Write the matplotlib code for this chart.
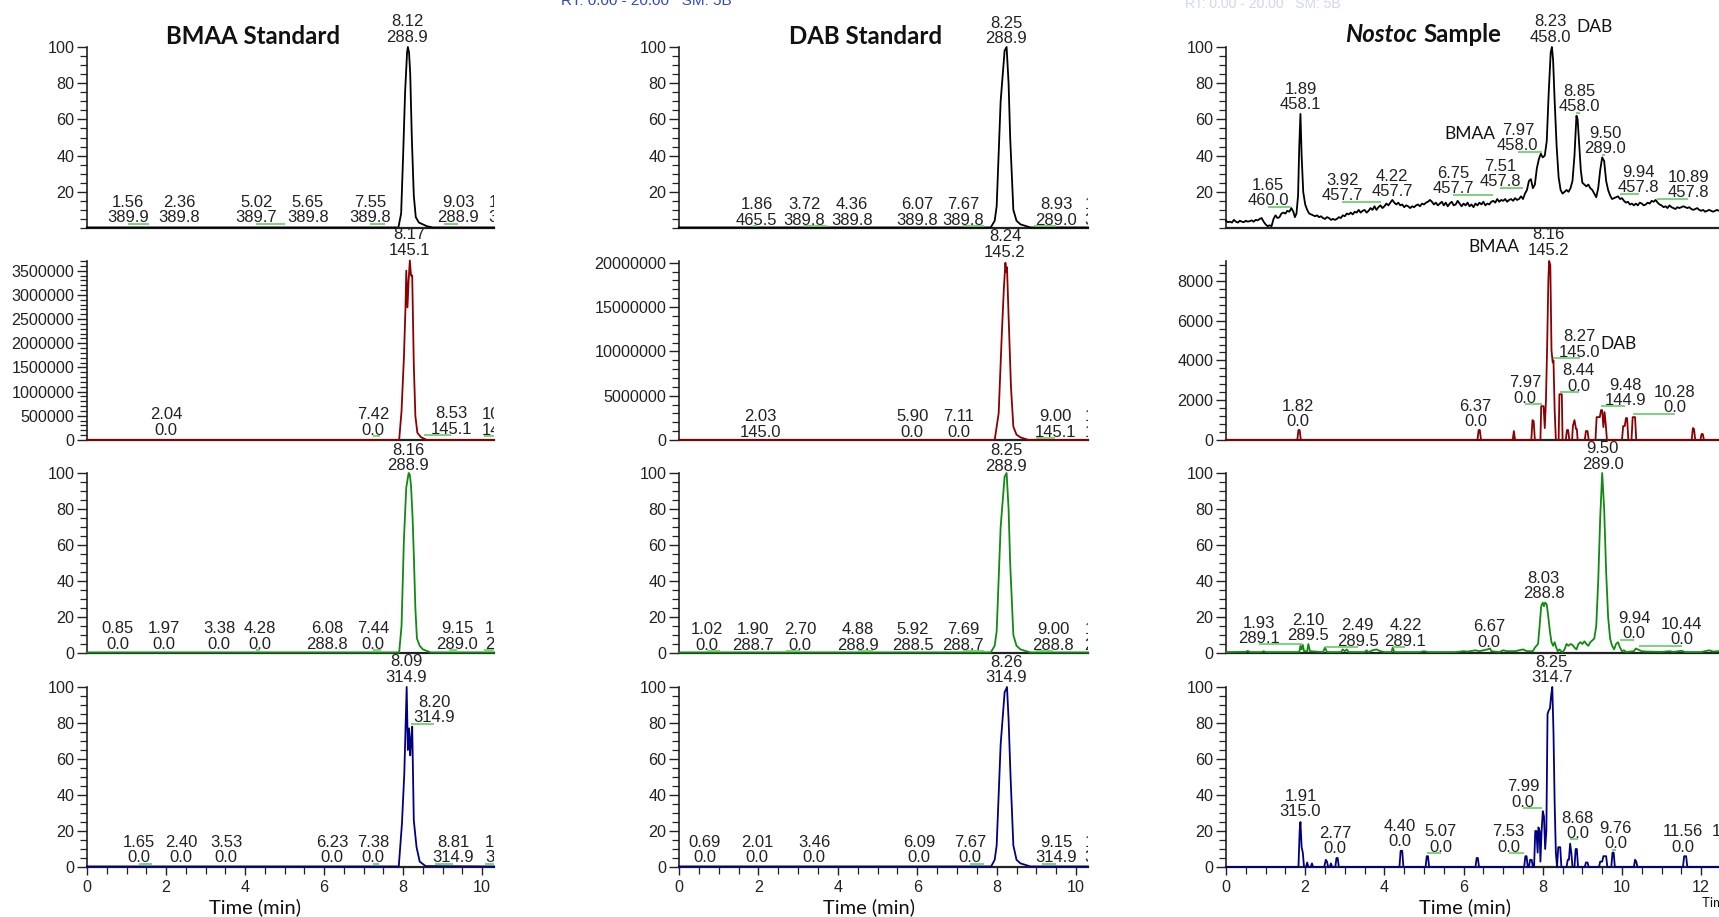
import matplotlib
matplotlib.use("Agg")
import matplotlib.pyplot as plt
from matplotlib.ticker import MultipleLocator, FixedLocator, FuncFormatter
from matplotlib.transforms import Bbox, TransformedBbox, blended_transform_factory

# ---------------- data ----------------
# BMAA standard
bmaa_289_t = [0, 7.88, 7.95, 8.0, 8.05, 8.1, 8.12, 8.15, 8.18, 8.22, 8.27, 8.32, 8.4, 8.5, 8.6, 8.75, 10.3]
bmaa_289_v = [0.3, 0.3, 8, 40, 75, 97, 100, 97, 85, 50, 18, 6, 3, 2, 1, 0.3, 0.3]
bmaa_145_t = [0, 7.9, 7.96, 8.02, 8.06, 8.08, 8.11, 8.14, 8.17, 8.2, 8.23, 8.27, 8.31, 8.36, 8.45, 8.6, 10.3]
bmaa_145_v = [0, 0, 0.6e6, 1.7e6, 2.74e6, 3.5e6, 2.74e6, 3.3e6, 3.71e6, 3.4e6, 3.4e6, 1.57e6, 0.5e6, 0.15e6, 0.06e6, 0, 0]
bmaa_289b_t = [0, 7.9, 7.96, 8.02, 8.08, 8.14, 8.17, 8.2, 8.24, 8.27, 8.31, 8.35, 8.42, 8.5, 8.7, 10.3]
bmaa_289b_v = [0.3, 0.3, 15, 63, 92, 100, 99, 93, 75, 55, 25, 8, 4, 2, 0.3, 0.3]
bmaa_315_t = [0, 7.89, 7.97, 8.03, 8.09, 8.12, 8.15, 8.18, 8.2, 8.23, 8.27, 8.34, 8.42, 8.57, 10.3]
bmaa_315_v = [0.3, 0.3, 24, 52, 100, 65, 77, 62, 70, 78, 26, 11, 3, 0.5, 0.3]

# DAB standard
dab_289_t = [0, 7.85, 7.95, 8.0, 8.1, 8.2, 8.25, 8.3, 8.34, 8.42, 8.5, 8.6, 8.85, 10.3]
dab_289_v = [0.3, 0.3, 4, 12, 70, 98, 100, 80, 50, 10, 4, 2, 0.3, 0.3]
dab_145_t = [0, 7.95, 8.05, 8.13, 8.18, 8.22, 8.24, 8.26, 8.3, 8.36, 8.42, 8.5, 8.6, 8.8, 10.3]
dab_145_v = [0, 0, 0.3e7, 1.2e7, 1.7e7, 2.0e7, 1.9e7, 1.95e7, 1.4e7, 0.6e7, 0.15e7, 0.06e7, 0.03e7, 0, 0]
dab_289b_t = [0, 7.85, 7.95, 8.0, 8.1, 8.2, 8.25, 8.3, 8.34, 8.42, 8.5, 8.6, 8.85, 10.3]
dab_289b_v = [0.3, 0.3, 4, 12, 70, 98, 100, 80, 50, 10, 4, 2, 0.3, 0.3]
dab_315_t = [0, 7.86, 7.95, 8.0, 8.1, 8.2, 8.26, 8.3, 8.35, 8.42, 8.5, 8.6, 8.85, 10.3]
dab_315_v = [0.3, 0.3, 4, 12, 68, 97, 100, 82, 50, 12, 4, 2, 0.3, 0.3]

# Nostoc sample
nos_458_t = [0.00, 0.05, 0.10, 0.15, 0.20, 0.25, 0.30, 0.35, 0.40, 0.45, 0.50, 0.55, 0.60, 0.65, 0.70,
             0.75, 0.80, 0.85, 0.90, 0.95, 1.00, 1.05, 1.10, 1.15, 1.20, 1.25, 1.30, 1.35, 1.40, 1.45,
             1.50, 1.55, 1.60, 1.65, 1.70, 1.74, 1.78, 1.82, 1.85, 1.88, 1.91, 1.95, 2.00, 2.05, 2.10,
             2.15, 2.20, 2.25, 2.30, 2.35, 2.40, 2.45, 2.50, 2.55, 2.60, 2.65, 2.70, 2.75, 2.80, 2.85,
             2.90, 2.95, 3.00, 3.05, 3.10, 3.15, 3.20, 3.25, 3.30, 3.35, 3.40, 3.45, 3.50, 3.55, 3.60,
             3.65, 3.70, 3.75, 3.80, 3.85, 3.90, 3.95, 4.00, 4.05, 4.10, 4.15, 4.20, 4.25, 4.30, 4.35,
             4.40, 4.45, 4.50, 4.55, 4.60, 4.65, 4.70, 4.75, 4.80, 4.85, 4.90, 4.95, 5.00, 5.05, 5.10,
             5.15, 5.20, 5.25, 5.30, 5.35, 5.40, 5.45, 5.50, 5.55, 5.60, 5.65, 5.70, 5.75, 5.80, 5.85,
             5.90, 5.95, 6.00, 6.05, 6.10, 6.15, 6.20, 6.25, 6.30, 6.35, 6.40, 6.45, 6.50, 6.55, 6.60,
             6.65, 6.70, 6.75, 6.80, 6.85, 6.90, 6.95, 7.00, 7.05, 7.10, 7.15, 7.20, 7.25, 7.30, 7.35,
             7.40, 7.45, 7.50, 7.55, 7.60, 7.65, 7.70, 7.75, 7.80, 7.85, 7.90, 7.95, 8.00, 8.05, 8.10,
             8.15, 8.20, 8.23, 8.26, 8.30, 8.35, 8.40, 8.45, 8.50, 8.55, 8.60, 8.65, 8.70, 8.75, 8.80,
             8.85, 8.88, 8.92, 8.96, 9.00, 9.05, 9.10, 9.15, 9.20, 9.25, 9.30, 9.35, 9.40, 9.45, 9.50,
             9.55, 9.60, 9.65, 9.70, 9.75, 9.80, 9.85, 9.90, 9.95, 10.00, 10.05, 10.10, 10.15, 10.20,
             10.25, 10.30, 10.35, 10.40, 10.45, 10.50, 10.55, 10.60, 10.65, 10.70, 10.75, 10.80, 10.85,
             10.90, 10.95, 11.00, 11.05, 11.10, 11.15, 11.20, 11.25, 11.30, 11.35, 11.40, 11.45, 11.50,
             11.55, 11.60, 11.65, 11.70, 11.75, 11.80, 11.85, 11.90, 11.95, 12.00, 12.05, 12.10, 12.15,
             12.20, 12.25, 12.30, 12.35, 12.40, 12.45]
nos_458_v = [4, 3.2, 3.5, 3, 4.5, 3.5, 3, 4, 3.5, 3.2, 4, 3.5, 3.8, 4.2, 3.5,
             4.5, 4.2, 5, 5.5, 3.5, 2, 1, 1.5, 1, 5, 7, 5.5, 6, 8, 8.5,
             8, 9.5, 9, 11, 9, 6, 8, 18, 45, 63, 40, 20, 13, 10, 8,
             7.5, 7, 6.5, 7, 6, 6.5, 5.5, 5, 6, 5.5, 4.5, 5, 4.5, 5, 6,
             5.5, 7, 6.5, 8, 7.5, 8.5, 7.5, 9, 8.5, 10, 8.5, 9.5, 10, 8.5, 9.5,
             11, 10, 12, 10, 11.5, 12.5, 11, 12, 13.5, 12.5, 14, 15.5, 14, 13, 14,
             12.5, 13, 11.5, 12.5, 12, 11, 12, 11.5, 12.5, 13, 12, 13.5, 13, 14, 14.5,
             15.5, 14.5, 13, 14, 12.5, 13.5, 14.5, 12.5, 14, 12, 13.5, 14.5, 12.5, 13, 15,
             13.5, 12, 13.5, 12.5, 14, 12, 13, 11.5, 13.5, 12.5, 14, 13, 14.5, 12.5, 13.5,
             13, 14.5, 15, 14, 16, 14.5, 15.5, 15, 16, 14.5, 15.5, 16, 15, 16.5, 15.5,
             16, 17.5, 16, 19, 21, 26, 27, 22, 24, 33, 38, 41, 39, 40, 48,
             75, 97, 100, 93, 70, 45, 28, 21, 19, 20, 21, 20, 22, 26, 40,
             62, 60, 46, 32, 25, 24, 23, 24, 22, 21, 19, 17, 22, 32, 39,
             37, 26, 21, 18, 16, 16.5, 17, 17.5, 16, 16.5, 15, 14, 14.5, 13,
             13.5, 12.5, 13.5, 12.5, 14, 13.5, 12.5, 13, 14, 13.5, 15, 14.5, 15.5,
             14, 13, 12.5, 11.5, 12, 11, 12.5, 11.5, 11, 10.5, 11.5, 11, 11.5,
             12, 11.5, 11, 11.5, 10.5, 10, 10.5, 11, 10, 9.5, 10, 9, 9.5,
             10, 9.5, 9, 9.5, 10, 9.5]

nos_145_t = [0, 1.80, 1.83, 1.86, 1.89, 6.35, 6.38, 6.41, 6.44, 7.24, 7.27, 7.30, 7.71, 7.74, 7.77, 7.80,
             7.94, 7.96, 8.02, 8.05, 8.08, 8.11, 8.14, 8.16, 8.19, 8.22, 8.25, 8.27, 8.30, 8.33,
             8.40, 8.42, 8.48, 8.50, 8.58, 8.61, 8.64, 8.67, 8.74, 8.76, 8.80, 8.84, 8.86, 8.88,
             9.06, 9.09, 9.13, 9.16, 9.33, 9.36, 9.44, 9.47, 9.50, 9.53, 9.56, 9.59, 9.62,
             10.00, 10.03, 10.07, 10.10, 10.13, 10.16, 10.24, 10.27, 10.33, 10.36,
             11.76, 11.79, 11.82, 11.85, 11.98, 12.01, 12.04, 12.07, 12.45]
nos_145_v = [0, 0, 500, 500, 0, 0, 500, 500, 0, 0, 450, 0, 0, 1000, 950, 0,
             0, 1700, 1700, 600, 2000, 4700, 8000, 9000, 8800, 4500, 3900, 4000, 1500, 0,
             0, 2300, 2300, 0, 0, 500, 500, 0, 0, 700, 1000, 550, 550, 0,
             0, 450, 450, 0, 0, 1150, 1150, 1500, 1500, 650, 1400, 800, 0,
             0, 700, 700, 1100, 1100, 0, 0, 1150, 1150, 0,
             0, 600, 550, 0, 0, 300, 300, 0, 0]

nos_289_t = [0, 0.5, 0.55, 0.6, 0.9, 0.95, 1.0, 1.85, 1.88, 1.91, 1.94, 1.97, 2.05, 2.08, 2.12, 2.45, 2.5,
             2.55, 2.9, 2.95, 3.0, 3.05, 3.1, 3.5, 3.55, 3.6, 3.7, 3.8, 3.9, 4.0, 4.18, 4.21, 4.25, 4.9,
             5.0, 5.1, 5.8, 6.0, 6.1, 6.3, 6.4, 6.6, 6.67, 6.7, 6.9, 7.0, 7.1, 7.3, 7.5, 7.6, 7.75, 7.8,
             7.88, 7.92, 7.96, 8.0, 8.03, 8.06, 8.1, 8.14, 8.18, 8.22, 8.26, 8.3, 8.34, 8.38, 8.42, 8.46,
             8.5, 8.55, 8.6, 8.65, 8.7, 8.75, 8.8, 8.85, 8.9, 8.95, 9.0, 9.05, 9.1, 9.15, 9.2, 9.25, 9.3,
             9.35, 9.4, 9.45, 9.5, 9.55, 9.6, 9.65, 9.7, 9.75, 9.8, 9.85, 9.9, 9.95, 10.0, 10.05, 10.1,
             10.3, 10.35, 10.4, 10.5, 10.6, 11.0, 11.2, 11.3, 11.5, 11.6, 12.0, 12.2, 12.3, 12.45]
nos_289_v = [0.5, 0.6, 1.2, 0.5, 0.5, 1, 0.5, 0.5, 4, 2, 4.5, 1, 1, 5, 1, 0.5, 3,
             0.5, 0.5, 2, 1, 2, 0.5, 0.5, 1.5, 0.5, 1.5, 2, 1, 0.5, 0.5, 3, 0.5, 0.5,
             1, 0.5, 0.5, 1, 0.8, 1.5, 1, 2, 2.5, 1, 0.5, 1.5, 1, 1, 2, 1, 1, 3,
             5, 15, 26, 28, 26, 28, 27, 20, 12, 6, 4, 6, 3, 1, 2, 1,
             0.5, 2, 5, 4, 5, 4.5, 3, 2, 5, 6, 5, 6.5, 5, 4, 6, 7, 8,
             15, 40, 75, 100, 80, 45, 20, 8, 4, 2, 5, 6, 3, 1, 1.5, 0.5,
             1, 2.5, 2, 1, 0.8, 0.6, 1, 0.6, 1.2, 0.5, 0.5, 1.5, 0.8, 1]

nos_315_t = [0, 1.83, 1.86, 1.88, 1.91, 1.94, 1.97, 2.02, 2.05, 2.08, 2.14, 2.17, 2.20, 2.48, 2.52, 2.55,
             2.58, 2.62, 2.65, 2.68, 2.76, 2.79, 2.82, 2.85, 4.38, 4.41, 4.45, 4.48, 5.04, 5.07, 5.10,
             5.13, 6.30, 6.33, 6.36, 6.39, 7.53, 7.56, 7.59, 7.62, 7.65, 7.68, 7.72, 7.75, 7.78, 7.81,
             7.84, 7.87, 7.89, 7.92, 7.94, 7.97, 8.0, 8.03, 8.06, 8.09, 8.12, 8.15, 8.18, 8.21, 8.24,
             8.27, 8.30, 8.33, 8.36, 8.39, 8.44, 8.47, 8.60, 8.63, 8.66, 8.69, 8.72, 8.75, 8.80, 8.83,
             8.86, 8.89, 9.06, 9.09, 9.13, 9.16, 9.42, 9.45, 9.50, 9.53, 9.60, 9.63, 9.73, 9.76, 9.79,
             9.82, 10.30, 10.33, 10.36, 10.39, 11.54, 11.57, 11.62, 11.65, 12.45]
nos_315_v = [0, 0, 20, 25, 11, 8, 0, 0, 2.5, 0, 0, 2, 0, 0, 4, 3,
             0, 0, 2, 0, 0, 5, 5, 0, 0, 9, 9, 0, 0, 6, 6,
             0, 0, 5, 5, 0, 0, 6, 6, 0, 0, 4, 4, 0, 0, 20,
             20, 8, 22, 20, 3, 20, 31, 28, 10, 20, 85, 87, 88, 95, 100,
             75, 35, 8, 0, 11, 11, 0, 0, 4, 4, 13, 8, 0, 0, 10,
             10, 0, 0, 2.5, 2.5, 0, 0, 3, 3, 6, 6, 0, 0, 8, 8,
             0, 0, 4, 3, 0, 0, 6, 6, 0, 0]

# peak labels: (retention time, m/z)
lab_bmaa_289 = [("8.12", "288.9"), ("1.56", "389.9"), ("2.36", "389.8"), ("5.02", "389.7"), ("5.65", "389.8"),
                ("7.55", "389.8"), ("9.03", "288.9"), ("10.31", "389.8")]
lab_bmaa_145 = [("8.17", "145.1"), ("2.04", "0.0"), ("7.42", "0.0"), ("8.53", "145.1"), ("10.05", "145.1")]
lab_bmaa_289b = [("8.16", "288.9"), ("0.85", "0.0"), ("1.97", "0.0"), ("3.38", "0.0"), ("4.28", "0.0"),
                 ("6.08", "288.8"), ("7.44", "0.0"), ("9.15", "289.0"), ("10.04", "288.9")]
lab_bmaa_315 = [("8.09", "314.9"), ("8.20", "314.9"), ("1.65", "0.0"), ("2.40", "0.0"), ("3.53", "0.0"),
                ("6.23", "0.0"), ("7.38", "0.0"), ("8.81", "314.9"), ("10.06", "314.9")]
lab_dab_289 = [("8.25", "288.9"), ("1.86", "465.5"), ("3.72", "389.8"), ("4.36", "389.8"), ("6.07", "389.8"),
               ("7.67", "389.8"), ("8.93", "289.0"), ("10.62", "389.8")]
lab_dab_145 = [("8.24", "145.2"), ("2.03", "145.0"), ("5.90", "0.0"), ("7.11", "0.0"), ("9.00", "145.1"),
               ("10.53", "145.1")]
lab_dab_289b = [("8.25", "288.9"), ("1.02", "0.0"), ("1.90", "288.7"), ("2.70", "0.0"), ("4.88", "288.9"),
                ("5.92", "288.5"), ("7.69", "288.7"), ("9.00", "288.8"), ("10.47", "288.9")]
lab_dab_315 = [("8.26", "314.9"), ("0.69", "0.0"), ("2.01", "0.0"), ("3.46", "0.0"), ("6.09", "0.0"),
               ("7.67", "0.0"), ("9.15", "314.9"), ("10.51", "314.9")]
lab_nos_458 = [("8.23", "458.0"), ("1.65", "460.0"), ("1.89", "458.1"), ("3.92", "457.7"), ("4.22", "457.7"),
               ("6.75", "457.7"), ("7.51", "457.8"), ("7.97", "458.0"), ("8.85", "458.0"), ("9.50", "289.0"),
               ("9.94", "457.8"), ("10.89", "457.8")]
lab_nos_145 = [("8.16", "145.2"), ("8.27", "145.0"), ("8.44", "0.0"), ("7.97", "0.0"), ("1.82", "0.0"),
               ("6.37", "0.0"), ("9.48", "144.9"), ("10.28", "0.0")]
lab_nos_289 = [("9.50", "289.0"), ("8.03", "288.8"), ("1.93", "289.1"), ("2.10", "289.5"), ("2.49", "289.5"),
               ("4.22", "289.1"), ("6.67", "0.0"), ("9.94", "0.0"), ("10.44", "0.0")]
lab_nos_315 = [("8.25", "314.7"), ("1.91", "315.0"), ("2.77", "0.0"), ("4.40", "0.0"), ("5.07", "0.0"),
               ("7.53", "0.0"), ("7.99", "0.0"), ("8.68", "0.0"), ("9.76", "0.0"), ("11.56", "0.0"),
               ("12.62", "0.0")]

titles = ["BMAA Standard", "DAB Standard", "Sample"]
x_label = "Time (min)"

# ---------------- layout (label positions: x in min, y in axes fraction) ----------------
pos_bmaa_289 = [(8.10, 1.097), (1.04, .099), (2.33, .099), (4.28, .099), (5.59, .099), (7.16, .099), (9.39, .099), (10.68, .099)]
pos_bmaa_145 = [(8.15, 1.103), (2.0, .098), (7.24, .098), (9.22, .103), (10.52, .098)]
pos_bmaa_289b = [(8.13, 1.083), (0.78, .092), (1.95, .092), (3.34, .092), (4.38, .092), (6.08, .092), (7.24, .092), (9.37, .092), (10.6, .092)]
pos_bmaa_315 = [(8.08, 1.097), (8.78, .872), (1.32, .094), (2.38, .094), (3.52, .094), (6.2, .094), (7.24, .094), (9.27, .094), (10.6, .094)]
pos_dab_289 = [(8.24, 1.088), (1.96, .086), (3.15, .086), (4.36, .086), (6.0, .086), (7.15, .086), (9.5, .086), (10.74, .086)]
pos_dab_145 = [(8.21, 1.092), (2.04, .087), (5.87, .087), (7.05, .087), (9.47, .087), (10.74, .087)]
pos_dab_289b = [(8.24, 1.081), (0.71, .086), (1.86, .086), (3.05, .086), (4.51, .086), (5.89, .086), (7.15, .086), (9.42, .086), (10.74, .086)]
pos_dab_315 = [(8.24, 1.094), (0.65, .094), (1.96, .094), (3.4, .094), (6.05, .094), (7.33, .094), (9.5, .094), (10.74, .094)]
pos_nos_458 = [(8.2, 1.097), (1.07, .192), (1.88, .722), (2.94, .219), (4.19, .244), (5.73, .258), (6.93, .297),
               (7.37, .497), (8.93, .711), (9.58, .481), (10.42, .264), (11.67, .236)]
pos_nos_145 = [(8.15, 1.103), (8.93, .534), (8.91, .344), (7.55, .277), (1.82, .145), (6.3, .145), (10.08, .263), (11.33, .223)]
pos_nos_289 = [(9.51, 1.092), (8.02, .374), (0.83, .123), (2.08, .137), (3.33, .109), (4.53, .109), (6.64, .103), (10.31, .148), (11.51, .115)]
pos_nos_315 = [(8.23, 1.094), (1.88, .35), (2.76, .144), (4.38, .183), (5.42, .153), (7.14, .153), (7.5, .403),
               (8.88, .228), (9.84, .172), (11.54, .153), (12.8, .153)]
words = {(2, 0): [("BMAA", 6.17, .517), ("DAB", 9.3, 1.11)],
         (2, 1): [("BMAA", 6.77, 1.078), ("DAB", 9.9, .536)]}

W, H = 1719, 917
col_left = [87, 679, 1226]
col_right = [494, 1088, 1719]
col_xmax = [10.30, 10.30, 12.45]
row_top = [47, 261, 473, 687]
row_bot = [228, 440, 653, 867]
colors = ["#000000", "#8b0000", "#108a10", "#000080"]
GREEN = "#66cc66"
LABFONT = "Liberation Sans"
WFONT = "Lato"

traces = [
    [(bmaa_289_t, bmaa_289_v), (bmaa_145_t, bmaa_145_v), (bmaa_289b_t, bmaa_289b_v), (bmaa_315_t, bmaa_315_v)],
    [(dab_289_t, dab_289_v), (dab_145_t, dab_145_v), (dab_289b_t, dab_289b_v), (dab_315_t, dab_315_v)],
    [(nos_458_t, nos_458_v), (nos_145_t, nos_145_v), (nos_289_t, nos_289_v), (nos_315_t, nos_315_v)],
]
labels = [
    [(lab_bmaa_289, pos_bmaa_289), (lab_bmaa_145, pos_bmaa_145), (lab_bmaa_289b, pos_bmaa_289b), (lab_bmaa_315, pos_bmaa_315)],
    [(lab_dab_289, pos_dab_289), (lab_dab_145, pos_dab_145), (lab_dab_289b, pos_dab_289b), (lab_dab_315, pos_dab_315)],
    [(lab_nos_458, pos_nos_458), (lab_nos_145, pos_nos_145), (lab_nos_289, pos_nos_289), (lab_nos_315, pos_nos_315)],
]
row2_ymax = [3.7e6, 2.02e7, 9000]
row2_major = [500000, 5e6, 2000]
row2_minor = [100000, 1e6, 400]

fig = plt.figure(figsize=(W / 100, H / 100), dpi=100)
fig.patch.set_facecolor("white")

intfmt = FuncFormatter(lambda v, p: f"{int(round(v))}")

for c in range(3):
    clipbox = TransformedBbox(Bbox([[0, 0], [col_right[c] / W, 1]]), fig.transFigure)
    for r in range(4):
        l, rr, t, b = col_left[c], col_right[c], row_top[r], row_bot[r]
        ax = fig.add_axes([l / W, (H - b) / H, (rr - l) / W, (b - t) / H])
        ax.set_facecolor("none")
        ax.set_xlim(0, col_xmax[c])
        if r == 1:
            ax.set_ylim(0, row2_ymax[c])
            ax.yaxis.set_major_locator(MultipleLocator(row2_major[c]))
            ax.yaxis.set_minor_locator(MultipleLocator(row2_minor[c]))
            ax.yaxis.set_major_formatter(intfmt)
        else:
            ax.set_ylim(0, 100)
            if r == 0:
                ax.yaxis.set_major_locator(FixedLocator([20, 40, 60, 80, 100]))
            else:
                ax.yaxis.set_major_locator(MultipleLocator(20))
            ax.yaxis.set_minor_locator(MultipleLocator(5))
        for s in ["top", "right"]:
            ax.spines[s].set_visible(False)
        ax.spines["left"].set_linewidth(1.2)
        ax.spines["left"].set_color("#222222")
        ax.spines["bottom"].set_linewidth(1.6)
        ax.spines["bottom"].set_color("#222222")
        ax.tick_params(axis="y", which="major", length=7, width=1.0, pad=2, labelsize=11.6,
                       labelcolor="#222222", color="#222222")
        ax.tick_params(axis="y", which="minor", length=5, width=0.9, color="#222222")
        for lab in ax.get_yticklabels():
            lab.set_fontfamily(LABFONT)
        if r == 3:
            ax.xaxis.set_major_locator(MultipleLocator(2))
            ax.xaxis.set_minor_locator(MultipleLocator(0.5))
            ax.xaxis.set_major_formatter(intfmt)
            ax.tick_params(axis="x", which="major", length=6, width=1.0, labelsize=11.6, pad=3,
                           labelcolor="#222222", color="#222222")
            ax.tick_params(axis="x", which="minor", length=5, width=0.9, color="#222222")
            for lab in ax.get_xticklabels():
                lab.set_fontfamily(LABFONT)
        else:
            ax.tick_params(axis="x", which="both", bottom=False, labelbottom=False)

        tt, vv = traces[c][r]
        ax.plot(tt, vv, color=colors[r], lw=1.3, zorder=3, clip_on=False)

        trans = blended_transform_factory(ax.transData, ax.transAxes)
        labs, poss = labels[c][r]
        for i, ((rt, mz), (lx, ly)) in enumerate(zip(labs, poss)):
            txt = ax.text(lx, ly, f"{rt}\n{mz}", transform=trans, ha="center", va="center",
                          multialignment="center", fontsize=12, family=LABFONT, color="#222222",
                          linespacing=1.02, zorder=5)
            txt.set_clip_on(True)
            txt.set_clip_box(clipbox)
            rtv = float(rt)
            if abs(rtv - lx) > 0.08 and i > 0:
                ax.plot([min(rtv, lx), max(rtv, lx)], [ly - 0.075, ly - 0.075], transform=trans,
                        color=GREEN, lw=1.2, zorder=4, solid_capstyle="butt")
        for (w, wx, wy) in words.get((c, r), []):
            ax.text(wx, wy, w, transform=trans, ha="center", va="center", fontsize=12.5,
                    family=WFONT, color="#111111", zorder=5, clip_on=False)

# titles
fig.text(253 / W, 1 - 37 / H, titles[0], ha="center", va="center", fontsize=17.3, family=WFONT,
         fontweight="bold", color="#111111")
fig.text(866 / W, 1 - 37 / H, titles[1], ha="center", va="center", fontsize=17.3, family=WFONT,
         fontweight="bold", color="#111111")
fig.text(1417 / W, 1 - 34 / H, "Nostoc", ha="right", va="center", fontsize=17.3, family=WFONT,
         fontweight="bold", fontstyle="italic", color="#111111")
fig.text(1423 / W, 1 - 34 / H, titles[2], ha="left", va="center", fontsize=17.3, family=WFONT,
         fontweight="bold", color="#111111")

# x axis labels
for xc in [255, 869, 1465]:
    fig.text(xc / W, 1 - 907 / H, x_label, ha="center", va="center", fontsize=14.5, family=WFONT,
             color="#111111")
fig.text(1702 / W, 1 - 903 / H, x_label, ha="left", va="center", fontsize=9.5, family=WFONT,
         color="#111111")

# clipped header remnants
fig.text(561 / W, 1 - 1 / H, "RT: 0.00 - 20.00   SM: 5B", ha="left", va="center", fontsize=11,
         family=LABFONT, color="#2b48c8")
fig.text(1185 / W, 1 - 4 / H, "RT: 0.00 - 20.00   SM: 5B", ha="left", va="center", fontsize=10,
         family=LABFONT, color="#d0d6f2")

fig.savefig("out.png", dpi=100, facecolor="white")
